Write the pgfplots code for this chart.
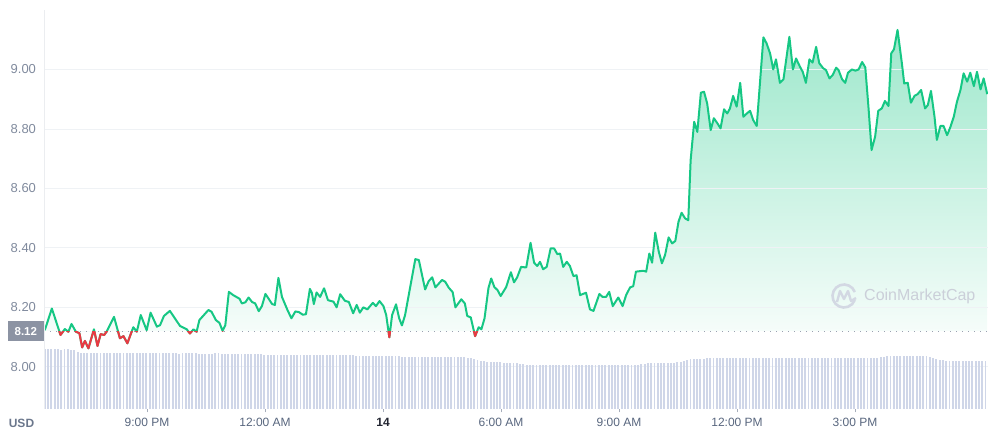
\documentclass[border=0pt]{standalone}
\usepackage{pgfplots}
\pgfplotsset{compat=1.18}
\usepackage{pgfplotstable}
\usepackage{fontspec}
\setmainfont{Liberation Sans}
\definecolor{cmcgreen}{HTML}{16C784}
\definecolor{cmcred}{HTML}{EA3943}
\definecolor{ticklab}{HTML}{808A9D}
\definecolor{xlab}{HTML}{58667E}
\definecolor{xdark}{HTML}{222531}
\definecolor{gridc}{HTML}{EFF2F5}
\definecolor{volc}{HTML}{CFD6E8}
\definecolor{boxc}{HTML}{8C93A3}
\definecolor{wm}{HTML}{D3D8E3}
\definecolor{usdc}{HTML}{6B778C}

\pgfplotstableread{
h p
18.40 8.123
18.58 8.196
18.80 8.107
18.91 8.127
19.00 8.118
19.08 8.144
19.19 8.118
19.28 8.113
19.35 8.065
19.42 8.087
19.51 8.062
19.65 8.126
19.74 8.070
19.82 8.110
19.91 8.107
19.97 8.118
20.16 8.168
20.31 8.096
20.40 8.103
20.50 8.079
20.65 8.133
20.74 8.118
20.84 8.174
20.99 8.123
21.09 8.182
21.25 8.135
21.33 8.140
21.43 8.171
21.58 8.188
21.84 8.137
22.01 8.126
22.09 8.112
22.18 8.126
22.26 8.118
22.33 8.157
22.56 8.191
22.64 8.185
22.75 8.157
22.84 8.148
22.92 8.121
22.99 8.140
23.08 8.252
23.19 8.241
23.35 8.229
23.41 8.213
23.50 8.217
23.58 8.233
23.67 8.218
23.75 8.213
23.84 8.187
23.92 8.204
24.01 8.245
24.18 8.211
24.25 8.208
24.34 8.299
24.43 8.235
24.57 8.191
24.67 8.163
24.77 8.186
24.86 8.184
24.96 8.175
25.04 8.177
25.14 8.262
25.19 8.249
25.24 8.211
25.31 8.250
25.40 8.235
25.50 8.264
25.60 8.224
25.74 8.219
25.82 8.200
25.91 8.244
26.03 8.222
26.13 8.218
26.24 8.180
26.33 8.208
26.41 8.182
26.50 8.200
26.60 8.193
26.74 8.215
26.82 8.204
26.91 8.221
27.01 8.204
27.08 8.174
27.16 8.099
27.23 8.174
27.33 8.210
27.41 8.163
27.48 8.139
27.56 8.174
27.82 8.362
27.91 8.359
28.07 8.260
28.16 8.288
28.25 8.301
28.33 8.267
28.50 8.292
28.58 8.286
28.67 8.266
28.77 8.251
28.84 8.200
28.99 8.227
29.08 8.213
29.14 8.171
29.23 8.166
29.34 8.103
29.43 8.133
29.50 8.126
29.58 8.163
29.68 8.265
29.75 8.297
29.83 8.268
29.91 8.258
29.99 8.238
30.13 8.268
30.25 8.318
30.33 8.284
30.41 8.301
30.51 8.336
30.64 8.334
30.75 8.417
30.84 8.350
30.92 8.339
30.99 8.353
31.07 8.328
31.16 8.336
31.26 8.398
31.35 8.398
31.43 8.379
31.50 8.381
31.58 8.336
31.67 8.353
31.75 8.339
31.84 8.305
31.92 8.308
32.01 8.241
32.16 8.249
32.26 8.193
32.35 8.188
32.50 8.245
32.58 8.235
32.67 8.235
32.75 8.252
32.84 8.204
32.98 8.233
33.09 8.204
33.18 8.241
33.28 8.267
33.36 8.271
33.43 8.320
33.62 8.323
33.69 8.320
33.77 8.381
33.84 8.350
33.92 8.451
34.01 8.387
34.09 8.348
34.17 8.376
34.26 8.435
34.35 8.415
34.43 8.423
34.51 8.487
34.59 8.518
34.68 8.499
34.76 8.493
34.82 8.695
34.91 8.824
34.99 8.790
35.08 8.922
35.16 8.925
35.24 8.886
35.33 8.796
35.41 8.836
35.50 8.819
35.58 8.802
35.67 8.866
35.75 8.852
35.82 8.869
35.90 8.911
35.99 8.875
36.08 8.955
36.16 8.841
36.25 8.852
36.33 8.861
36.41 8.830
36.50 8.810
36.67 9.108
36.75 9.088
36.84 9.054
36.92 9.000
36.99 9.034
37.09 8.955
37.18 8.967
37.33 9.110
37.42 9.000
37.50 9.037
37.60 9.009
37.67 8.992
37.75 8.955
37.84 9.034
37.92 9.023
38.01 9.076
38.09 9.021
38.19 9.004
38.26 8.998
38.35 8.970
38.43 8.981
38.52 9.006
38.58 8.998
38.67 8.967
38.75 8.955
38.82 8.989
38.92 9.000
39.01 8.996
39.09 9.000
39.18 9.025
39.26 9.007
39.34 8.875
39.42 8.729
39.51 8.774
39.59 8.861
39.68 8.869
39.76 8.894
39.85 8.877
39.92 9.054
39.99 9.068
40.08 9.133
40.19 9.021
40.25 8.953
40.34 8.955
40.42 8.888
40.51 8.911
40.59 8.917
40.68 8.931
40.78 8.869
40.85 8.880
40.93 8.928
41.02 8.841
41.08 8.763
41.17 8.810
41.25 8.810
41.34 8.779
41.42 8.805
41.51 8.841
41.59 8.891
41.68 8.931
41.76 8.987
41.85 8.959
41.93 8.989
42.02 8.944
42.10 8.992
42.19 8.933
42.27 8.970
42.36 8.917
}\price

% volume (relative units), one bar every 5 minutes from 18:24
\pgfplotstableread{
v
60
60
60
60
60
59
60
60
59
59
57
56
56
56
56
56
56
56
56
56
56
56
56
56
56
56
56
56
56
56
56
56
56
56
56
56
56
56
56
56
56
55
56
56
56
56
56
55
55
55
55
55
56
56
55
55
55
55
55
55
55
55
55
55
55
55
55
54
54
54
54
54
54
54
54
54
54
54
54
54
54
54
54
54
54
54
54
54
54
54
54
54
54
54
54
53
53
53
53
53
53
53
53
53
53
53
53
53
53
52
52
52
52
52
52
52
52
52
52
52
52
52
52
52
52
52
52
52
52
51
51
50
49
48
48
47
47
47
47
47
46
46
46
46
46
45
45
44
44
44
44
44
44
44
44
44
44
44
44
44
44
44
44
44
44
44
44
44
44
44
44
44
44
44
44
44
44
44
44
44
44
44
45
45
46
46
46
46
46
46
46
46
46
47
47
48
49
50
50
50
50
50
51
51
51
51
51
51
51
51
51
51
51
51
51
51
51
51
51
51
51
51
51
51
51
51
51
51
51
51
51
51
51
51
51
51
51
51
51
51
51
51
51
51
51
51
51
51
51
51
51
51
51
51
51
52
52
53
53
53
53
53
53
53
53
53
53
53
53
53
52
51
50
49
49
48
48
48
48
48
48
48
48
48
48
48
48
48
}\vol

\begin{document}
\begin{tikzpicture}
\useasboundingbox (0pt,0pt) rectangle (988pt,447pt);
% gradient fill between price and the 8.12 reference level (y = price - 8.12)
\begin{axis}[
  at={(44pt,115.90pt)}, anchor=south west,
  scale only axis, width=944pt, height=321.1pt,
  xmin=18.38, xmax=42.38, ymin=0, ymax=1.08,
  hide axis,
]
\addplot[draw=none, top color=cmcgreen!42, bottom color=cmcgreen!2] table[x=h, y expr=\thisrow{p}-8.12]{\price} \closedcycle;
\end{axis}
% main price axis
\begin{axis}[
  at={(44pt,38pt)}, anchor=south west,
  scale only axis, width=944pt, height=399pt,
  xmin=18.38, xmax=42.38, ymin=7.858, ymax=9.2,
  axis line style={draw=none},
  ytick={8,8.2,8.4,8.6,8.8,9},
  ymajorgrids, grid style={draw=gridc, line width=0.8pt},
  /pgf/number format/assume math mode=true,
  yticklabel style={/pgf/number format/fixed, /pgf/number format/fixed zerofill,
    /pgf/number format/precision=2, text=ticklab, xshift=-1pt, font=\fontsize{13}{15}\selectfont},
  ytick style={draw=none},
  xtick pos=bottom, ytick pos=left,
  xtick={21,24,27,30,33,36,39},
  xticklabels={9:00 PM,12:00 AM,\textbf{\color{xdark}14},6:00 AM,9:00 AM,12:00 PM,3:00 PM},
  xticklabel style={text=xlab, yshift=-2pt, font=\fontsize{12}{14}\selectfont},
  xtick style={draw=ticklab!70, line width=0.6pt},
  tick align=outside, major tick length=3.5pt,
]
\addplot[ticklab!80, line width=0.9pt, dash pattern=on 1pt off 5pt] coordinates {(18.38,8.12) (42.38,8.12)};
\addplot[cmcgreen, line width=2pt, line join=round] table[x=h,y=p]{\price};
\end{axis}
% red part of the line: same scale, axis cut at 8.12
\begin{axis}[
  at={(44pt,38pt)}, anchor=south west,
  scale only axis, width=944pt, height=77.90pt,
  xmin=18.38, xmax=42.38, ymin=7.858, ymax=8.12,
  hide axis,
]
\addplot[cmcred, line width=2pt, line join=round] table[x=h,y=p]{\price};
\end{axis}
% volume bars
\begin{axis}[
  at={(44pt,38pt)}, anchor=south west,
  scale only axis, width=944pt, height=399pt,
  xmin=18.38, xmax=42.38, ymin=0, ymax=399,
  hide axis,
]
\addplot[ycomb, draw=volc, line width=1.9pt, mark=none] table[x expr={18.40+\coordindex/12}, y=v]{\vol};
\end{axis}
\draw[gridc!70!ticklab!40, line width=0.8pt] (44pt,38pt) -- (44pt,437pt);
\node[fill=boxc, text=white, font=\bfseries\fontsize{11.5}{12}\selectfont, minimum width=36pt, minimum height=19.5pt, inner sep=0pt, anchor=east] at (44pt,115.9pt) {8.12};
\node[font=\bfseries\fontsize{12}{14}\selectfont, text=usdc] at (21.5pt,24pt) {USD};
% watermark
\draw[wm, line width=2.6pt] (844pt,151pt) ++(20:11.5pt) arc (20:340:11.5pt);
\draw[wm, line width=2.4pt, line join=round] (837pt,145pt) -- (840pt,156pt) -- (844pt,148pt) -- (848pt,156pt) -- (851pt,146pt) -- (856pt,149pt);
\node[font=\fontsize{16}{19}\selectfont, text=wm!90!gray, anchor=west, inner sep=0pt] at (864pt,151pt) {CoinMarketCap};
\end{tikzpicture}
\end{document}
